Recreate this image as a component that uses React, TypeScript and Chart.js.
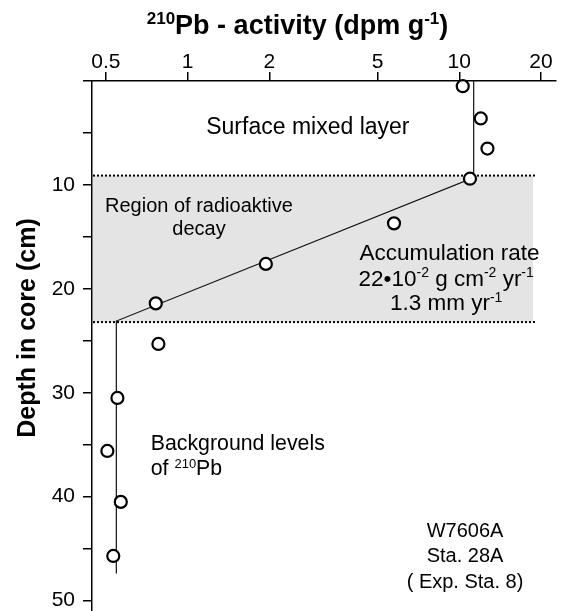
import React, { useEffect, useRef } from "react";
import { Chart, registerables } from "chart.js";

Chart.register(...registerables);

// Measured 210Pb activity (dpm/g) versus depth in core (cm)
const activity = [10.3, 12.0, 12.7, 10.95, 5.75, 1.94, 0.763, 0.78, 0.551, 0.506, 0.567, 0.532];
const depth = [0.5, 3.6, 6.5, 9.4, 13.7, 17.6, 21.4, 25.3, 30.5, 35.6, 40.5, 45.7];

// Fitted profile: mixed layer, exponential decay, background
const modelActivity = [11.3, 11.3, 0.546, 0.546];
const modelDepth = [0, 9.3, 23.1, 47.4];

// Zone of radioactive decay (depth limits) and its right edge in activity units
const decayZone = [9.1, 23.2];
const decayZoneRight = 18.7;
const dottedRight = 19.0;

// Axis ranges and ticks
const xRange = [0.4442, 22.71];
const yRange = [0, 51];
const xTicks = [0.5, 1, 2, 5, 10, 20];
const yTicks = [0, 5, 10, 15, 20, 25, 30, 35, 40, 45, 50];

type Seg = { t: string; sup?: boolean };

// Text placed inside the plot, anchored in data units (activity, depth)
const notes: { x: number; y: number; size: number; align: "center" | "left"; segs: Seg[] }[] = [
  { x: 2.77, y: 4.35, size: 23, align: "center", segs: [{ t: "Surface mixed layer" }] },
  { x: 1.1, y: 11.9, size: 20, align: "center", segs: [{ t: "Region of radioaktive" }] },
  { x: 1.1, y: 14.1, size: 20, align: "center", segs: [{ t: "decay" }] },
  { x: 9.2, y: 16.4, size: 22.5, align: "center", segs: [{ t: "Accumulation rate" }] },
  {
    x: 8.95,
    y: 18.9,
    size: 22.5,
    align: "center",
    segs: [{ t: "22•10" }, { t: "-2", sup: true }, { t: " g cm" }, { t: "-2", sup: true }, { t: " yr" }, { t: "-1", sup: true }],
  },
  { x: 8.95, y: 21.3, size: 22.5, align: "center", segs: [{ t: "1.3 mm yr" }, { t: "-1", sup: true }] },
  { x: 0.731, y: 34.8, size: 21.3, align: "left", segs: [{ t: "Background levels" }] },
  { x: 0.731, y: 37.2, size: 21.3, align: "left", segs: [{ t: "of " }, { t: "210", sup: true }, { t: "Pb" }] },
  { x: 10.5, y: 43.2, size: 20, align: "center", segs: [{ t: "W7606A" }] },
  { x: 10.5, y: 45.6, size: 20, align: "center", segs: [{ t: "Sta. 28A" }] },
  { x: 10.5, y: 48.1, size: 20, align: "center", segs: [{ t: "( Exp. Sta. 8)" }] },
];

const titleSegs: Seg[] = [{ t: "210", sup: true }, { t: "Pb - activity (dpm g" }, { t: "-1", sup: true }, { t: ")" }];
const yTitleSegs: Seg[] = [{ t: "Depth in core (cm)" }];

const FAMILY = '"Liberation Sans", Arial, sans-serif';
const TICK_SIZE = 21;

function drawRich(
  ctx: CanvasRenderingContext2D,
  segs: Seg[],
  x: number,
  yMid: number,
  size: number,
  bold: boolean,
  align: "center" | "left"
) {
  const weight = bold ? "bold " : "";
  const supSize = Math.round(size * 0.62);
  const fontOf = (s: Seg) => `${weight}${s.sup ? supSize : size}px ${FAMILY}`;
  let total = 0;
  const widths = segs.map((s) => {
    ctx.font = fontOf(s);
    const w = ctx.measureText(s.t).width;
    total += w;
    return w;
  });
  let cx = align === "center" ? x - total / 2 : x;
  const base = yMid + size * 0.36;
  ctx.textAlign = "left";
  ctx.textBaseline = "alphabetic";
  segs.forEach((s, i) => {
    ctx.font = fontOf(s);
    ctx.fillText(s.t, cx, s.sup ? base - size * 0.36 : base);
    cx += widths[i];
  });
}

const decorations = {
  id: "decorations",
  beforeDatasetsDraw(chart: any) {
    const { ctx, chartArea, scales } = chart;
    const xs = scales.x;
    const ys = scales.y;
    const yTop = ys.getPixelForValue(decayZone[0]);
    const yBot = ys.getPixelForValue(decayZone[1]);
    const xRight = xs.getPixelForValue(decayZoneRight);
    ctx.save();
    ctx.fillStyle = "#e4e4e4";
    ctx.fillRect(chartArea.left + 1, yTop, xRight - chartArea.left - 1, yBot - yTop);
    ctx.strokeStyle = "#000";
    ctx.lineWidth = 2;
    ctx.setLineDash([2, 2]);
    const xDot = xs.getPixelForValue(dottedRight);
    [yTop, yBot].forEach((y) => {
      ctx.beginPath();
      ctx.moveTo(chartArea.left + 1, y);
      ctx.lineTo(xDot, y);
      ctx.stroke();
    });
    ctx.restore();
  },
  afterDraw(chart: any) {
    const { ctx, scales } = chart;
    const xs = scales.x;
    const ys = scales.y;
    ctx.save();
    ctx.fillStyle = "#000";
    notes.forEach((n) => {
      drawRich(ctx, n.segs, xs.getPixelForValue(n.x), ys.getPixelForValue(n.y), n.size, false, n.align);
    });
    drawRich(ctx, titleSegs, 297.5, 24, 27, true, "center");
    ctx.translate(26, 328);
    ctx.rotate(-Math.PI / 2);
    drawRich(ctx, yTitleSegs, 0, 0, 25, true, "center");
    ctx.restore();
  },
};

export default function App() {
  const ref = useRef<HTMLCanvasElement | null>(null);

  useEffect(() => {
    document.body.style.margin = "0";
    const canvas = ref.current;
    if (!canvas) return;
    const tickFont = { family: FAMILY, size: TICK_SIZE };
    const axisGrid = {
      display: true,
      drawOnChartArea: false,
      drawTicks: true,
      tickLength: 9,
      color: "#000",
      lineWidth: 1.5,
    };
    const axisBorder = { display: true, color: "#000", width: 1.5 };

    const chart = new Chart(canvas, {
      type: "scatter",
      data: {
        datasets: [
          {
            label: "210Pb",
            data: activity.map((a, i) => ({ x: a, y: depth[i] })),
            pointRadius: 6,
            pointHoverRadius: 6,
            pointBorderWidth: 2.2,
            pointBackgroundColor: "#fff",
            pointBorderColor: "#000",
            showLine: false,
            clip: false,
            order: 0,
          },
          {
            label: "model",
            data: modelActivity.map((a, i) => ({ x: a, y: modelDepth[i] })),
            showLine: true,
            borderColor: "#111",
            borderWidth: 1.2,
            pointRadius: 0,
            clip: false,
            order: 1,
          },
        ],
      },
      options: {
        animation: false,
        responsive: false,
        devicePixelRatio: 1,
        layout: { autoPadding: false, padding: { left: 0, right: 8, top: 0, bottom: 0 } },
        plugins: {
          legend: { display: false },
          tooltip: { enabled: false },
          title: { display: false },
        },
        scales: {
          x: {
            type: "logarithmic",
            position: "top",
            min: xRange[0],
            max: xRange[1],
            afterBuildTicks: (s: any) => {
              s.ticks = xTicks.map((v) => ({ value: v }));
            },
            afterFit: (s: any) => {
              s.height = 81;
              s.paddingLeft = 0;
              s.paddingRight = 0;
            },
            ticks: {
              callback: (v: any) => String(v),
              font: tickFont,
              color: "#000",
              padding: -3,
              autoSkip: false,
              maxRotation: 0,
            },
            grid: axisGrid,
            border: axisBorder,
          },
          y: {
            type: "linear",
            reverse: true,
            min: yRange[0],
            max: yRange[1],
            afterBuildTicks: (s: any) => {
              s.ticks = yTicks.map((v) => ({ value: v }));
            },
            afterFit: (s: any) => {
              s.width = 92;
              s.paddingTop = 0;
              s.paddingBottom = 0;
            },
            ticks: {
              callback: (v: any) => (v > 0 && v % 10 === 0 ? String(v) : ""),
              font: tickFont,
              color: "#000",
              padding: 8,
              autoSkip: false,
            },
            grid: axisGrid,
            border: axisBorder,
          },
        },
      } as any,
      plugins: [decorations],
    });
    return () => chart.destroy();
  }, []);

  return (
    <div style={{ width: 564, height: 611, background: "#fff" }}>
      <canvas ref={ref} width={564} height={611} style={{ display: "block" }} />
    </div>
  );
}
